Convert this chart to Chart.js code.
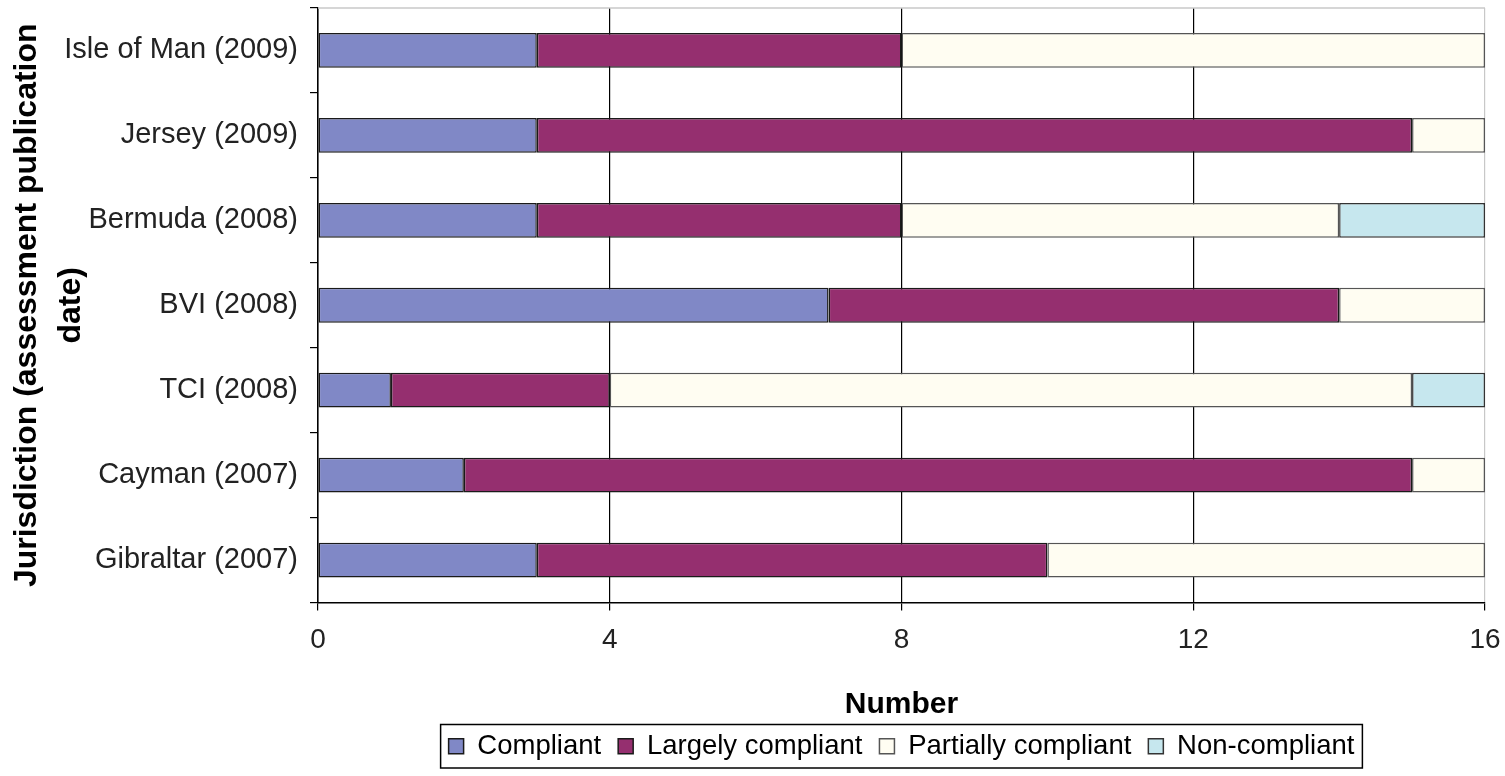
<!DOCTYPE html>
<html>
<head>
<meta charset="utf-8">
<script src="https://cdn.jsdelivr.net/npm/chart.js@4.4.1/dist/chart.umd.min.js"></script>
<style>
  body { margin: 0; background: #fff; }
  #wrap { width: 1505px; height: 776px; }
</style>
</head>
<body>
<div id="wrap"><canvas id="graph"></canvas></div>
<script>
// data
const categories = ['Isle of Man (2009)', 'Jersey (2009)', 'Bermuda (2008)', 'BVI (2008)', 'TCI (2008)', 'Cayman (2007)', 'Gibraltar (2007)'];
const compliant = [3, 3, 3, 7, 1, 2, 3];
const largelyCompliant = [5, 12, 5, 7, 3, 13, 7];
const partiallyCompliant = [8, 1, 6, 2, 11, 1, 6];
const nonCompliant = [0, 0, 2, 0, 1, 0, 0];
const xTicks = [0, 4, 8, 12, 16];

const FONT = '"Liberation Sans", Arial, sans-serif';

// top border of the plot + the frame round the legend
const extras = {
  id: 'extras',
  afterDraw(chart) {
    const ctx = chart.ctx;
    const a = chart.chartArea;
    ctx.save();
    ctx.strokeStyle = '#c8c8c8';
    ctx.lineWidth = 1.5;
    ctx.beginPath();
    ctx.moveTo(a.left, a.top);
    ctx.lineTo(a.right, a.top);
    ctx.stroke();

    const boxes = chart.legend.legendHitBoxes;
    if (boxes && boxes.length) {
      let l = Infinity, r = -Infinity, t = Infinity, b = -Infinity;
      boxes.forEach(h => {
        l = Math.min(l, h.left); r = Math.max(r, h.left + h.width);
        t = Math.min(t, h.top); b = Math.max(b, h.top + h.height);
      });
      ctx.strokeStyle = '#000';
      ctx.lineWidth = 1.5;
      ctx.strokeRect(l - 8, t - 8, r - l + 16, b - t + 16);
    }
    ctx.restore();
  }
};

const ctx = document.getElementById('graph').getContext('2d');

new Chart(ctx, {
  type: 'bar',
  data: {
    labels: categories,
    datasets: [
      { label: 'Compliant', data: compliant, backgroundColor: '#8088c6', borderColor: '#1a1a1a' },
      { label: 'Largely compliant', data: largelyCompliant, backgroundColor: '#952f6f', borderColor: '#1a1a1a' },
      { label: 'Partially compliant', data: partiallyCompliant, backgroundColor: '#fffdf2', borderColor: '#555' },
      { label: 'Non-compliant', data: nonCompliant, backgroundColor: '#c6e7ee', borderColor: '#333' }
    ]
  },
  options: {
    indexAxis: 'y',
    responsive: true,
    maintainAspectRatio: false,
    animation: false,
    layout: { padding: { left: 6, right: 20, top: 8, bottom: 6 } },
    datasets: {
      bar: { borderWidth: 1.5, borderSkipped: false, categoryPercentage: 1, barPercentage: 0.41 }
    },
    scales: {
      x: {
        stacked: true,
        min: 0,
        max: 16,
        afterBuildTicks: s => { s.ticks = xTicks.map(v => ({ value: v })); },
        afterFit: s => { s.height = 113; s.paddingLeft = 0; s.paddingRight = 0; },
        border: { color: '#000', width: 1.5 },
        grid: {
          color: c => (c.tick && c.tick.value === 16 ? '#c8c8c8' : '#000'),
          tickColor: '#000',
          lineWidth: 1.2,
          tickLength: 8
        },
        ticks: { color: '#222', font: { family: FONT, size: 28 }, padding: 13, maxRotation: 0 },
        title: {
          display: true,
          text: 'Number',
          color: '#000',
          font: { family: FONT, size: 30, weight: 'bold' },
          padding: { top: 20, bottom: -7 }
        }
      },
      y: {
        stacked: true,
        afterFit: s => { s.width = 312; s.paddingTop = 0; s.paddingBottom = 0; },
        border: { color: '#000', width: 1.5 },
        grid: { drawOnChartArea: false, color: '#000', tickLength: 8, lineWidth: 1.2 },
        ticks: { color: '#222', font: { family: FONT, size: 29 }, padding: 12 },
        title: {
          display: true,
          text: ['Jurisdiction (assessment publication', 'date)'],
          color: '#000',
          font: { family: FONT, size: 32, weight: 'bold', lineHeight: 1.35 },
          padding: 0
        }
      }
    },
    plugins: {
      legend: {
        position: 'bottom',
        fullSize: false,
        labels: {
          color: '#000',
          font: { family: FONT, size: 27.5 },
          boxWidth: 15,
          boxHeight: 15,
          padding: 17
        }
      },
      tooltip: { enabled: false }
    }
  },
  plugins: [extras]
});
</script>
</body>
</html>
